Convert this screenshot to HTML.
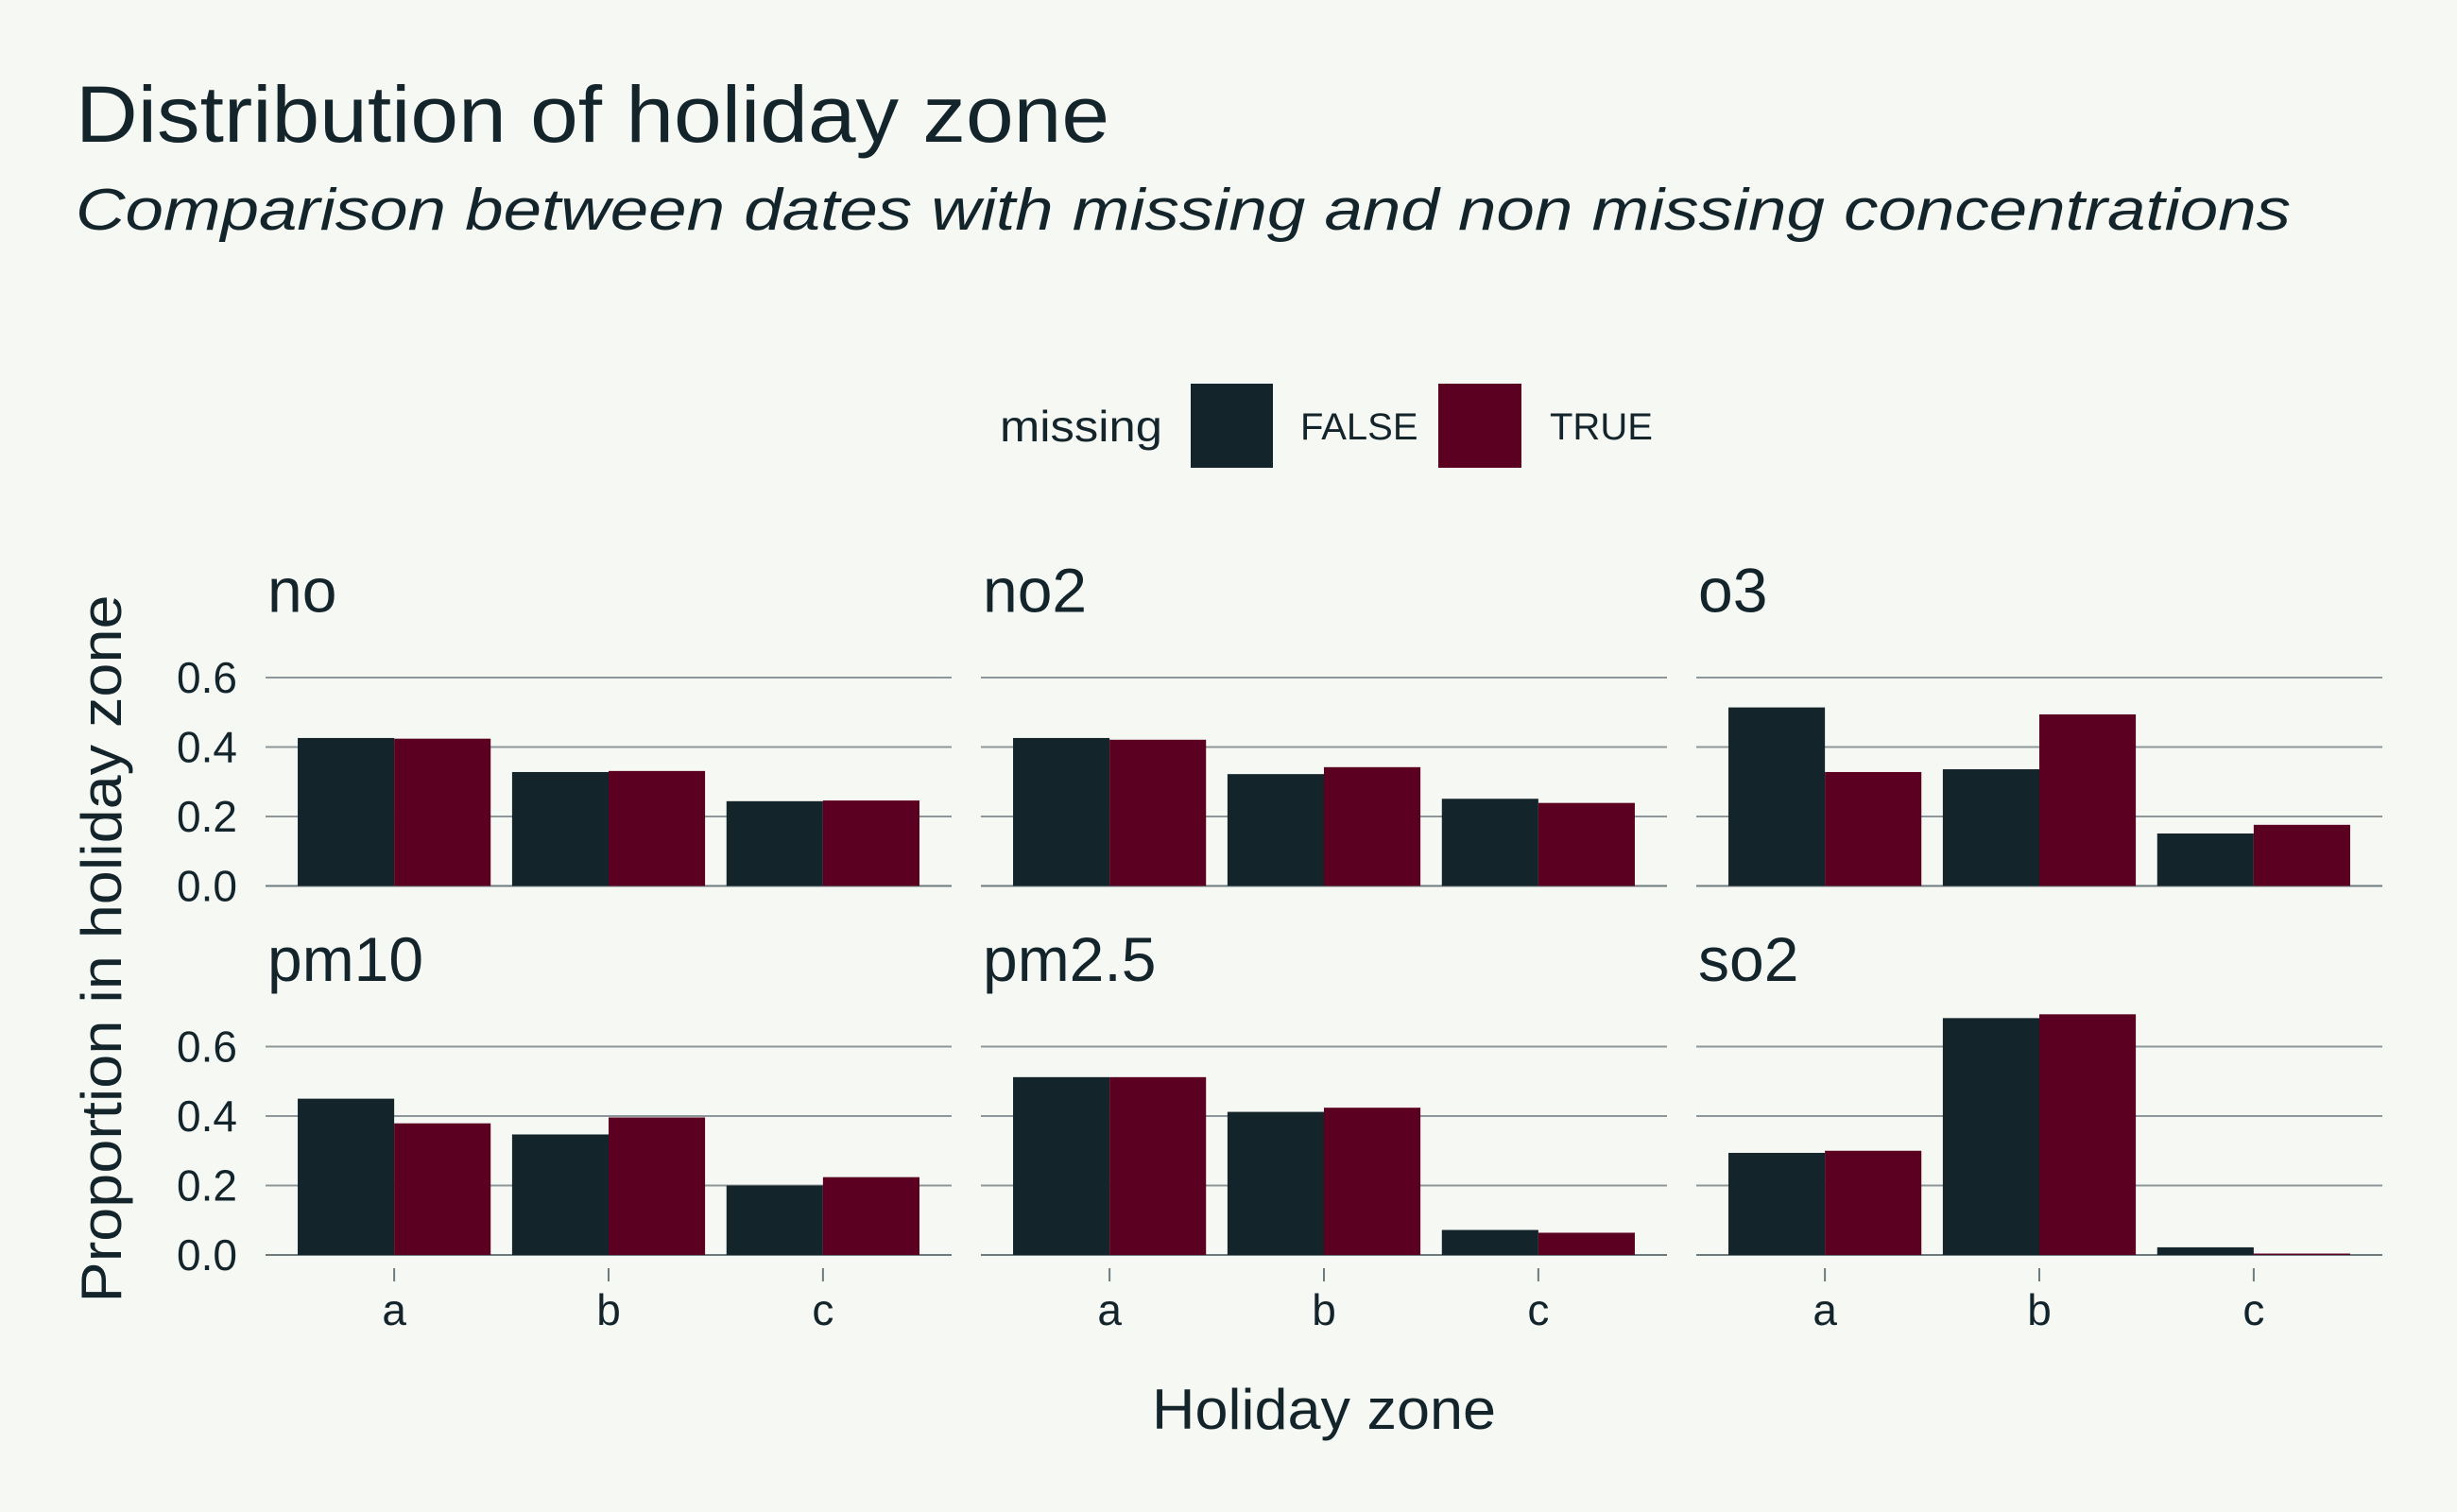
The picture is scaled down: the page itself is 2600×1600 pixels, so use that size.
<!DOCTYPE html>
<html><head><meta charset="utf-8">
<style>
html,body{margin:0;padding:0;background:#f6f8f4;}
svg{display:block;font-family:"Liberation Sans",sans-serif;}
</style></head>
<body>
<svg id="chart" width="2600" height="1600" viewBox="0 0 2600 1600">
<rect width="2600" height="1600" fill="#f6f8f4"/>
<text x="80" y="150" font-size="84" fill="#13242b" textLength="1094" lengthAdjust="spacingAndGlyphs">Distribution of holiday zone</text>
<text x="80" y="243" font-size="62" font-style="italic" fill="#13242b" textLength="2344" lengthAdjust="spacingAndGlyphs">Comparison between dates with missing and non missing concentrations</text>
<g>
<text x="1058" y="467" font-size="46" fill="#13242b" textLength="172" lengthAdjust="spacingAndGlyphs">missing</text>
<rect x="1260" y="406" width="87" height="89" fill="#13242b"/>
<text x="1376" y="465" font-size="40" fill="#13242b">FALSE</text>
<rect x="1522" y="406" width="88" height="89" fill="#5b0020"/>
<text x="1640" y="465" font-size="40" fill="#13242b">TRUE</text>
</g>
<text transform="translate(128,1004) rotate(-90)" text-anchor="middle" font-size="60" fill="#13242b" textLength="749" lengthAdjust="spacingAndGlyphs">Proportion in holiday zone</text>
<text x="1401" y="1512" text-anchor="middle" font-size="60" fill="#13242b" textLength="364" lengthAdjust="spacingAndGlyphs">Holiday zone</text>
<g id="panels"></g>
</svg>
<script>
const facets = ["no","no2","o3","pm10","pm2.5","so2"];
const categories = ["a","b","c"];
const seriesNames = ["FALSE","TRUE"];
const valuesFalse = [
  [0.426,0.328,0.244],
  [0.426,0.322,0.251],
  [0.514,0.336,0.151],
  [0.450,0.347,0.200],
  [0.512,0.412,0.072],
  [0.294,0.682,0.022]
];
const valuesTrue = [
  [0.424,0.331,0.246],
  [0.421,0.342,0.239],
  [0.328,0.494,0.176],
  [0.379,0.396,0.224],
  [0.512,0.424,0.064],
  [0.300,0.693,0.004]
];
const yTicks = [0,0.2,0.4,0.6];
const yTickLabels = ["0.0","0.2","0.4","0.6"];

const NS = "http://www.w3.org/2000/svg";
const root = document.getElementById("panels");
const colors = ["#13242b","#5b0020"];
const panelLeft = [281,1038,1795];
const panelW = 726;
const zeroY = [937.5,1328];
const unit = 367.5;
function yScale(v,row){return zeroY[row]-v*unit;}
function xCenter(i,col){const step=panelW/3.2;return panelLeft[col]+step*(0.6+i);}
function mk(tag,attrs){const e=document.createElementNS(NS,tag);for(const k in attrs)e.setAttribute(k,attrs[k]);return e;}

facets.forEach((f,fi)=>{
  const row=Math.floor(fi/3), col=fi%3;
  const g=mk("g",{});
  
  
  root.appendChild(g);
  const x0=panelLeft[col];
  const lab=mk("text",{x:x0+2,y:zeroY[row]-290,"font-size":"66",fill:"#13242b"});
  
  
  lab.textContent=f;g.appendChild(lab);
  yTicks.forEach((t,ti)=>{
    const y=yScale(t,row);
    const ln=mk("line",{x1:x0,x2:x0+panelW,y1:y,y2:y,stroke:t===0?"#6d7a7e":"#8d9799","stroke-width":"2"});
    
    
    g.appendChild(ln);
    if(col===0){
      const tl=mk("text",{x:251,y:y+16,"text-anchor":"end","font-size":"46",fill:"#13242b"});
      
      
      tl.textContent=yTickLabels[ti];g.appendChild(tl);
    }
  });
  const step=panelW/3.2, bw=step*0.45;
  categories.forEach((c,ci)=>{
    const cx=xCenter(ci,col);
    [valuesFalse,valuesTrue].forEach((vals,si)=>{
      const v=vals[fi][ci];
      const y=yScale(v,row);
      const r=mk("rect",{x:cx-bw+si*bw,y:y,width:bw,height:zeroY[row]-y,fill:colors[si]});
      
      
      g.appendChild(r);
    });
    if(row===1){
      const tk=mk("line",{x1:cx,x2:cx,y1:1342,y2:1356,stroke:"#6d7a7e","stroke-width":"2"});
      
      
      g.appendChild(tk);
      const xl=mk("text",{x:cx,y:1402,"text-anchor":"middle","font-size":"46",fill:"#13242b"});
      
      
      xl.textContent=c;g.appendChild(xl);
    }
  });
});
</script>
</body></html>
